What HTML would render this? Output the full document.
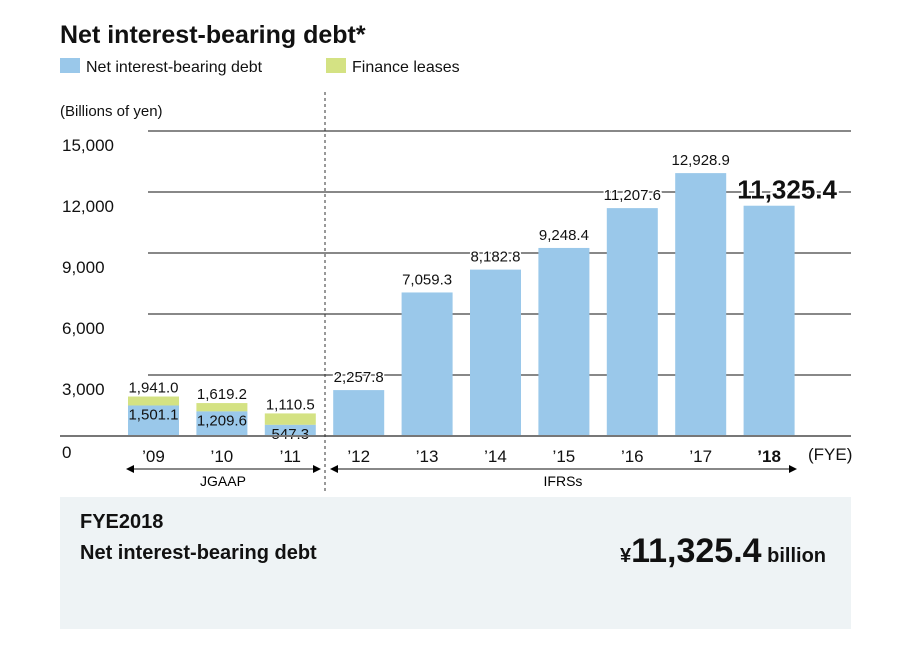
<!DOCTYPE html>
<html><head><meta charset="utf-8"><style>
body{margin:0;width:900px;height:646px;background:#fff;font-family:"Liberation Sans",sans-serif;overflow:hidden}
svg text{font-family:"Liberation Sans",sans-serif}
</style></head><body>
<svg id="c" width="900" height="646">
<text x="60" y="43" font-size="25" font-weight="bold" fill="#111">Net interest-bearing debt*</text>
<rect x="60" y="58" width="20" height="15" fill="#9ac8ea"/>
<text x="86" y="72" font-size="16" fill="#111">Net interest-bearing debt</text>
<rect x="326" y="58" width="20" height="15" fill="#d4e283"/>
<text x="352" y="72" font-size="16" fill="#111">Finance leases</text>
<text x="60" y="116" font-size="15" fill="#111">(Billions of yen)</text>
<g id="grid"></g><g id="bars"></g><g id="labels"></g>
<line x1="325" y1="92" x2="325" y2="493" stroke="#333" stroke-dasharray="3,3"/>
<g><line x1="130" y1="469" x2="317" y2="469" stroke="#111"/><polygon points="126,469 134,465 134,473"/><polygon points="321,469 313,465 313,473"/><text x="223" y="486" font-size="14" text-anchor="middle">JGAAP</text></g>
<g><line x1="334" y1="469" x2="793" y2="469" stroke="#111"/><polygon points="330,469 338,465 338,473"/><polygon points="797,469 789,465 789,473"/><text x="563" y="486" font-size="14" text-anchor="middle">IFRSs</text></g>
<text x="808" y="460" font-size="17" fill="#111">(FYE)</text>
<rect x="60" y="497" width="791" height="132" fill="#eef3f5"/>
<text x="80" y="528" font-size="20" font-weight="bold" fill="#111">FYE2018</text>
<text x="80" y="559" font-size="20" font-weight="bold" fill="#111">Net interest-bearing debt</text>
<text x="826" y="562" text-anchor="end" font-weight="bold" fill="#111"><tspan font-size="20">¥</tspan><tspan font-size="34">11,325.4</tspan><tspan font-size="20"> billion</tspan></text>
</svg>
<script>
const categories=["’09","’10","’11","’12","’13","’14","’15","’16","’17","’18"];
const debt=[1501.1,1209.6,547.3,2257.8,7059.3,8182.8,9248.4,11207.6,12928.9,11325.4];
const totals=[1941.0,1619.2,1110.5,null,null,null,null,null,null,null];
const ticks=[0,3000,6000,9000,12000,15000];
const tickLabels=["0","3,000","6,000","9,000","12,000","15,000"];
const NS="http://www.w3.org/2000/svg";
const y=v=>436-v*305/15000;
const x=i=>128+i*68.4;
const bw=51;
function mk(t,a,p){const e=document.createElementNS(NS,t);for(const k in a)e.setAttribute(k,a[k]);document.getElementById(p).appendChild(e);return e;}
const fmt=v=>v.toLocaleString("en-US",{minimumFractionDigits:1,maximumFractionDigits:1});
ticks.forEach((t,i)=>{
 if(t>0){const l=mk("line",{x1:148,x2:851,y1:y(t),y2:y(t),stroke:"#111","stroke-width":1},"grid");
 
 }
 const tx=mk("text",{x:62,y:(t===0?y(t)+22:y(t)+20),"font-size":17,fill:"#111"},"grid");
 tx.textContent=tickLabels[i];
 
 
});
categories.forEach((c,i)=>{
 const last=i===categories.length-1;
 if(totals[i]!=null){
  const r=mk("rect",{x:x(i),y:y(totals[i]),width:bw,height:y(debt[i])-y(totals[i]),fill:"#d4e283"},"bars");
  
  
 }
 const b=mk("rect",{x:x(i),y:y(debt[i]),width:bw,height:436-y(debt[i]),fill:"#9ac8ea"},"bars");
 
 
 const lx=x(i)+bw/2;
 if(totals[i]!=null){
  const t1=mk("text",{x:lx,y:y(totals[i])-4,"font-size":15,"text-anchor":"middle",fill:"#111"},"labels");
  t1.textContent=fmt(totals[i]);
  
  
  const t2=mk("text",{x:lx,y:y(debt[i])+14,"font-size":15,"text-anchor":"middle",fill:"#111"},"labels");
  t2.textContent=fmt(debt[i]);
  
  
 } else if(last){
  const t=mk("text",{x:lx+18,y:y(debt[i])-7,"font-size":26,"font-weight":"bold","text-anchor":"middle",fill:"#111",stroke:"#fff","stroke-width":4,"paint-order":"stroke"},"labels");
  t.textContent=fmt(debt[i]);
  
  
 } else {
  const t=mk("text",{x:lx,y:y(debt[i])-8,"font-size":15,"text-anchor":"middle",fill:"#111",stroke:"#fff","stroke-width":3,"paint-order":"stroke"},"labels");
  t.textContent=fmt(debt[i]);
  
  
 }
 const xl=mk("text",{x:lx,y:462,"font-size":17,"text-anchor":"middle",fill:"#111","font-weight":last?"bold":"normal"},"labels");
 xl.textContent=c;
 
 
});
const z=mk("line",{x1:60,x2:851,y1:436,y2:436,stroke:"#777","stroke-width":2},"labels");


</script>
</body></html>
